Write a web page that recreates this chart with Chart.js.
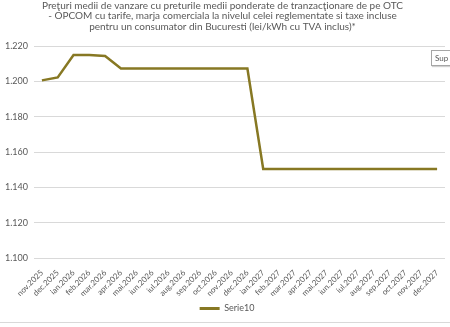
<!DOCTYPE html>
<html>
<head>
<meta charset="utf-8">
<script src="https://cdn.jsdelivr.net/npm/chart.js@4.4.1/dist/chart.umd.min.js"></script>
<style>
  html, body { margin: 0; padding: 0; background: #fff; }
  #wrap { position: relative; width: 450px; height: 327px; overflow: hidden; }
  #cut-box {
    position: absolute; left: 431px; top: 50px; width: 30px; height: 14px;
    border: 1px solid #a6a6a6; background: #fff; box-shadow: 1px 1px 1px #d0d0d0;
    font: 8px Lato, sans-serif; color: #595959; line-height: 14px; padding-left: 3px;
  }
  #base-line { position: absolute; left: 0; top: 322px; width: 450px; height: 1px; background: #d9d9d9; }
</style>
</head>
<body>
<div id="wrap">
  <canvas id="chart" width="450" height="327"></canvas>
  <div id="cut-box">Sup</div>
  <div id="base-line"></div>
</div>
<script>
const titleLines = [
    "Preţuri medii de vanzare cu preturile medii ponderate de tranzacţionare de pe OTC",
    "- OPCOM cu tarife, marja comerciala la nivelul celei reglementate si taxe incluse",
    "pentru un consumator din Bucuresti (lei/kWh cu TVA inclus)*",
];

const months = [
    "nov.2025", "dec.2025",
    "ian.2026", "feb.2026", "mar.2026", "apr.2026", "mai.2026", "iun.2026",
    "iul.2026", "aug.2026", "sep.2026", "oct.2026", "nov.2026", "dec.2026",
    "ian.2027", "feb.2027", "mar.2027", "apr.2027", "mai.2027", "iun.2027",
    "iul.2027", "aug.2027", "sep.2027", "oct.2027", "nov.2027", "dec.2027",
];

const serie10 = [
    1.2006, 1.2023,
    1.2150, 1.2149, 1.2144, 1.2073, 1.2073, 1.2073,
    1.2073, 1.2073, 1.2073, 1.2073, 1.2073, 1.2073,
    1.1504, 1.1504, 1.1504, 1.1504, 1.1504, 1.1504,
    1.1504, 1.1504, 1.1504, 1.1504, 1.1504, 1.1504,
];

const yTicks = [1.100, 1.120, 1.140, 1.160, 1.180, 1.200, 1.220];

const lineColor = "#877823";
const textColor = "#595959";
const gridColor = "#d9d9d9";
const fontFamily = "Lato, 'Open Sans', sans-serif";

// centre the legend under the plot area rather than the whole canvas
const legendShift = {
    id: "legendShift",
    afterLayout(chart) {
        const legend = chart.legend;
        if (!legend) return;
        legend.left += 4.5;
        legend.right += 4.5;
    },
};

const ctx = document.getElementById("chart").getContext("2d");
new Chart(ctx, {
    type: "line",
    data: {
        labels: months,
        datasets: [
            {
                label: "Serie10",
                data: serie10,
                borderColor: lineColor,
                backgroundColor: lineColor,
                borderWidth: 2.5,
                pointRadius: 0,
                tension: 0,
            },
        ],
    },
    plugins: [legendShift],
    options: {
        responsive: false,
        animation: false,
        layout: {
            padding: { left: 0, right: 5, top: 0, bottom: 4 },
        },
        plugins: {
            title: {
                display: true,
                text: titleLines,
                color: textColor,
                font: { family: fontFamily, size: 10, weight: "normal", lineHeight: 1.07 },
                padding: { top: 0, bottom: 14 },
            },
            legend: {
                position: "bottom",
                labels: {
                    color: textColor,
                    font: { family: fontFamily, size: 9 },
                    boxWidth: 20,
                    boxHeight: 3,
                    padding: 8,
                    generateLabels: (chart) =>
                        Chart.defaults.plugins.legend.labels
                            .generateLabels(chart)
                            .map((item) => ({ ...item, lineWidth: 0 })),
                },
            },
            tooltip: { enabled: false },
        },
        scales: {
            x: {
                offset: true,
                grid: { display: false },
                border: { display: false },
                ticks: {
                    color: textColor,
                    font: { family: fontFamily, size: 8 },
                    autoSkip: false,
                    maxRotation: 45,
                    minRotation: 45,
                    padding: 2,
                },
                afterFit: (scale) => {
                    scale.height = 38;
                },
            },
            y: {
                min: 1.1,
                max: 1.22,
                grid: { color: gridColor, drawTicks: false },
                border: { display: false },
                afterBuildTicks: (scale) => {
                    scale.ticks = yTicks.map((value) => ({ value }));
                },
                ticks: {
                    color: textColor,
                    font: { family: fontFamily, size: 9 },
                    padding: 6,
                    callback: (value) => Number(value).toFixed(3),
                },
                afterFit: (scale) => {
                    scale.width = 34;
                },
            },
        },
    },
});
</script>
</body>
</html>
